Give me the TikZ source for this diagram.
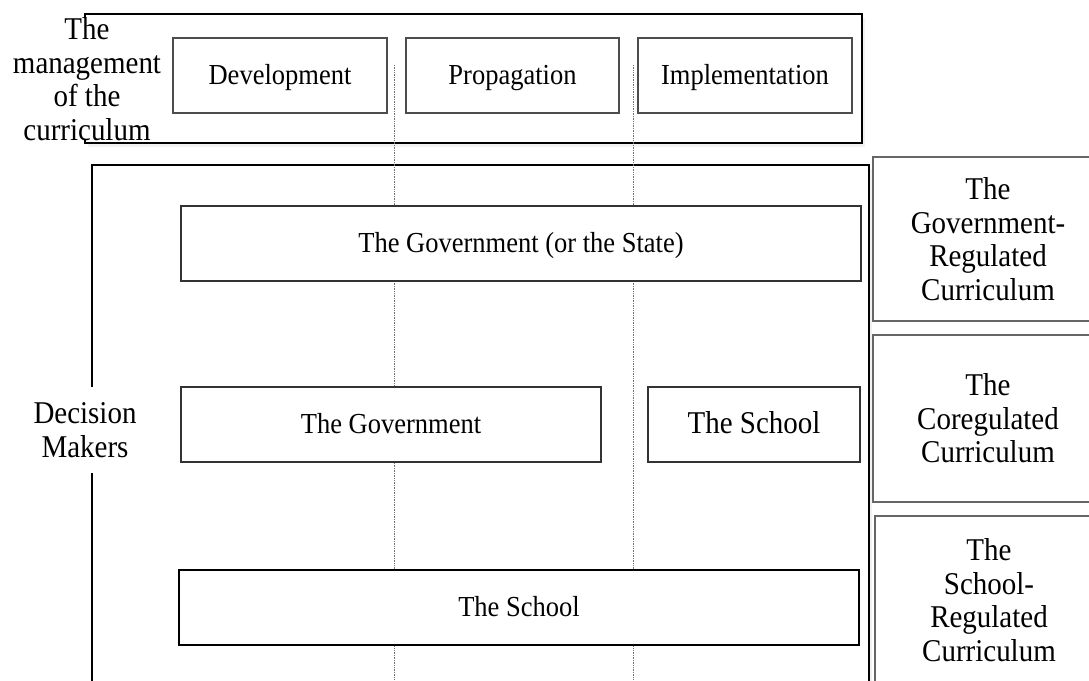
\documentclass[tikz,border=0pt]{standalone}
\usepackage{fontspec}
\setmainfont{Liberation Serif}[FakeStretch=0.914]
\usetikzlibrary{shadows}
\begin{document}
\begin{tikzpicture}[x=1pt,y=-1pt,
  small/.style={font=\fontsize{29}{33}\selectfont},
  big/.style={font=\fontsize{31.7}{33.5}\selectfont},
  frame/.style={draw=black, line width=1.6pt, fill=white,
    drop shadow={opacity=0.10, shadow xshift=2.5pt, shadow yshift=-3.5pt}},
  stagebox/.style={small, draw=black!70, line width=1.1pt, fill=white,
    minimum height=75pt, inner sep=0pt, text height=22pt, text depth=4pt},
  actor/.style={small, draw=black!80, line width=1.1pt, fill=white,
    minimum height=75pt, inner sep=0pt, text height=22pt, text depth=4pt},
  kind/.style={big, draw=black!60, line width=1.2pt, fill=white,
    align=center, inner sep=0pt},
  guide/.style={densely dotted, draw=black!55, line width=0.7pt},
  lbl/.style={big, fill=white, align=center}
]
\clip (0,0) rectangle (1089,680);
\fill[white] (0,0) rectangle (1089,680);

% frames
\node[frame, minimum width=777pt, minimum height=129pt, inner sep=0pt] (mgmt) at (473.5,78.5) {};
\node[frame, minimum width=777pt, minimum height=560pt, inner sep=0pt] (makers) at (480.5,445) {};

% guide lines
\coordinate (g1t) at (394,65);
\coordinate (g1b) at (394,680);
\coordinate (g2t) at (633,65);
\coordinate (g2b) at (633,680);
\draw[guide] (g1t) -- (g1b);
\draw[guide] (g2t) -- (g2b);

% stages
\node[stagebox, minimum width=214pt] (dev) at (280,75.5) {Development};
\node[stagebox, minimum width=213pt] (prop) at (512.5,75.5) {Propagation};
\node[stagebox, minimum width=214pt] (impl) at (745,75.5) {Implementation};

% actors
\node[actor, minimum width=680pt] (gov) at (521,243.5) {The Government (or the State)};
\node[actor, minimum width=420pt] (cogov) at (391,424.5) {The Government};
\node[actor, big, minimum width=212pt] (cosch) at (754,424.5) {The School};
\node[actor, draw=black, minimum width=680pt] (sch) at (519,607.5) {The School};

% curriculum kinds
\node[kind, minimum width=230pt, minimum height=164pt] (k1) at (988,239) {The\\Government-\\Regulated\\Curriculum};
\node[kind, minimum width=230pt, minimum height=167pt] (k2) at (988,418.5) {The\\Coregulated\\Curriculum};
\node[kind, minimum width=228pt, minimum height=168pt] (k3) at (989,600) {The\\School-\\Regulated\\Curriculum};

% side labels
\node[lbl, inner xsep=3pt, inner ysep=0pt] (lmgmt) at (87,79) {The\\management\\of the\\curriculum};
\node[lbl, inner xsep=4pt, inner ysep=16pt] (lmakers) at (85,430) {Decision\\Makers};
\end{tikzpicture}
\end{document}
